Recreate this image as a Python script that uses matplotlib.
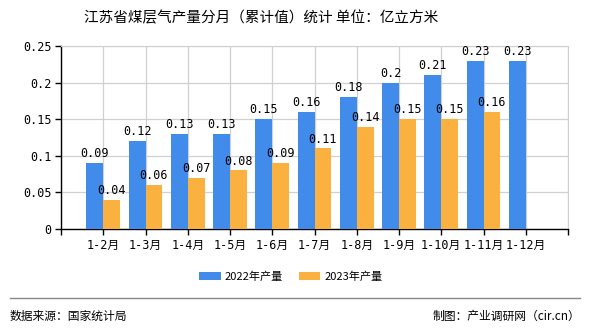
import numpy as np
import matplotlib.pyplot as plt

plt.rcParams['font.family'] = ['DejaVu Sans Mono', 'Noto Sans CJK SC']

# data
months = ['1-2月', '1-3月', '1-4月', '1-5月', '1-6月', '1-7月', '1-8月', '1-9月', '1-10月', '1-11月', '1-12月']
y2022 = [0.09, 0.12, 0.13, 0.13, 0.15, 0.16, 0.18, 0.2, 0.21, 0.23, 0.23]
y2023 = [0.04, 0.06, 0.07, 0.08, 0.09, 0.11, 0.14, 0.15, 0.15, 0.16]
labels22 = ['0.09', '0.12', '0.13', '0.13', '0.15', '0.16', '0.18', '0.2', '0.21', '0.23', '0.23']
labels23 = ['0.04', '0.06', '0.07', '0.08', '0.09', '0.11', '0.14', '0.15', '0.15', '0.16']
yticks = [0, 0.05, 0.1, 0.15, 0.2, 0.25]
ytick_labels = ['0', '0.05', '0.1', '0.15', '0.2', '0.25']

blue = '#418BEA'
orange = '#FBB140'
cjk = ['Noto Sans CJK SC', 'DejaVu Sans']

fig = plt.figure(figsize=(5.9, 3.3), dpi=100)
ax = fig.add_axes([61 / 590, 1 - 229 / 330, 507 / 590, 183 / 330])

x = np.arange(1, len(months) + 1)
w = 0.4
b1 = ax.bar(x - w / 2, y2022, w, color=blue, label='2022年产量', zorder=3)
b2 = ax.bar(x[:len(y2023)] + w / 2, y2023, w, color=orange, label='2023年产量', zorder=3)

for rect, t in zip(b1, labels22):
    ax.text(rect.get_x() + rect.get_width() / 2, rect.get_height() + 0.004, t,
            ha='center', va='bottom', fontsize=8.5, zorder=4)
for rect, t in zip(b2, labels23):
    ax.text(rect.get_x() + rect.get_width() / 2, rect.get_height() + 0.004, t,
            ha='center', va='bottom', fontsize=8.5, zorder=4)

ax.set_xlim(0, len(months) + 1)
ax.set_ylim(0, 0.25)
ax.set_yticks(yticks)
ax.set_yticklabels(ytick_labels, fontsize=8.5)
ax.set_xticks(np.arange(0, len(months) + 2))
ax.set_xticklabels([''] + months + [''], fontsize=8.5)

ax.grid(True, color='#D0D0D0', linewidth=0.9, zorder=0)
for s in ['top', 'right']:
    ax.spines[s].set_color('#D0D0D0')
for s in ['left', 'bottom']:
    ax.spines[s].set_color('black')
    ax.spines[s].set_linewidth(1.0)
ax.tick_params(axis='both', length=4, width=1, color='black', pad=3)

fig.text(261 / 590, 1 - 18 / 330, '江苏省煤层气产量分月（累计值）统计 单位：亿立方米',
         ha='center', va='center', fontsize=10.5, family=cjk)

fig.legend(handles=[b1, b2], loc='center', bbox_to_anchor=(291 / 590, 1 - 277 / 330),
           ncol=2, frameon=False, handlelength=1.9, handleheight=0.7, handletextpad=0.4,
           columnspacing=1.4, prop={'family': cjk, 'size': 8})

fig.add_artist(plt.Line2D([10 / 590, 580 / 590], [1 - 298 / 330] * 2, color='#888888', linewidth=1))
fig.text(10 / 590, 1 - 316 / 330, '数据来源：国家统计局', ha='left', va='center', fontsize=8.5, family=cjk)
fig.text(580 / 590, 1 - 316 / 330, '制图：产业调研网（cir.cn）', ha='right', va='center', fontsize=8.5, family=cjk)

fig.savefig('out.png', dpi=100)
